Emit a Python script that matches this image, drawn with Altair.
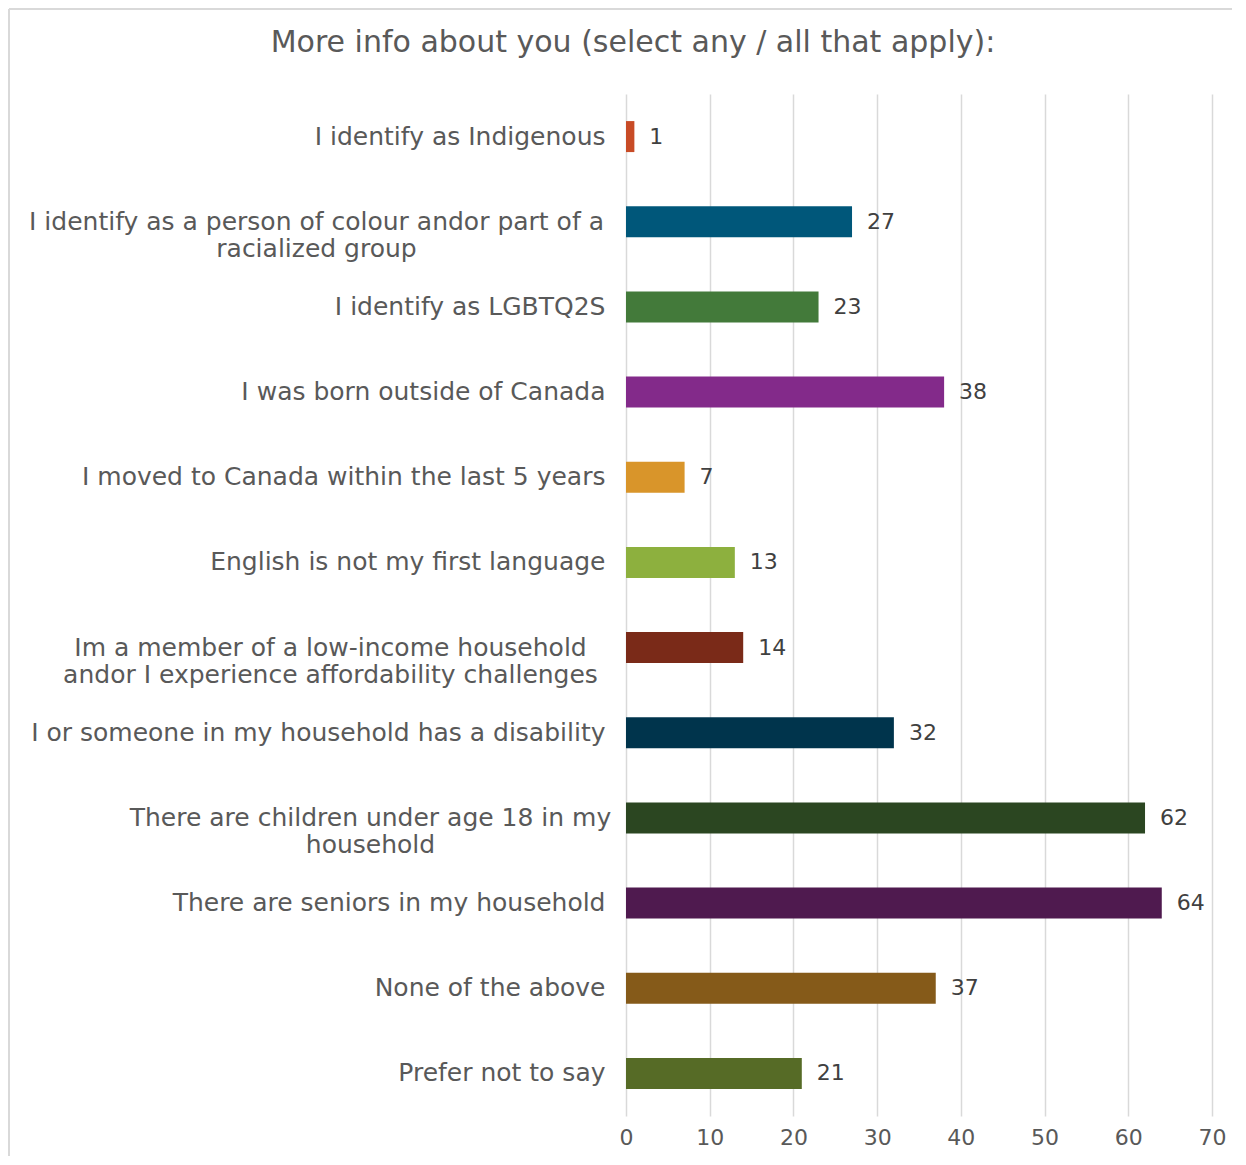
import altair as alt
import pandas as pd

categories = [
    "I identify as Indigenous",
    "I identify as a person of colour andor part of a|racialized group",
    "I identify as LGBTQ2S",
    "I was born outside of Canada",
    "I moved to Canada within the last 5 years",
    "English is not my first language",
    "Im a member of a low-income household|andor I experience affordability challenges",
    "I or someone in my household has a disability",
    "There are children under age 18 in my|household",
    "There are seniors in my household",
    "None of the above",
    "Prefer not to say",
]
values = [1, 27, 23, 38, 7, 13, 14, 32, 62, 64, 37, 21]
colors = ["#C84B26", "#00577A", "#437A3A", "#832A8A", "#D9952A", "#8DB03E",
          "#7A2A18", "#00344C", "#2B4621", "#4F1A4F", "#855A19", "#566B26"]
x_ticks = [0, 10, 20, 30, 40, 50, 60, 70]
title_text = "More info about you (select any / all that apply):"

df = pd.DataFrame({"cat": categories, "val": values})

FONT = "DejaVu Sans"
GRAY = "#595959"

multi_pad = {
    categories[1]: 310,
    categories[6]: 296,
    categories[8]: 256,
}
multi_test = " || ".join(f"datum.value === '{c}'" for c in multi_pad)

y_axis = alt.Axis(
    title=None,
    labelExpr="split(datum.label, '|')",
    labelFont=FONT,
    labelFontSize=25,
    labelColor=GRAY,
    labelLineHeight=27,
    labelLimit=700,
    ticks=False,
    domain=False,
    grid=False,
    labelAlign={"condition": {"test": multi_test, "value": "center"}, "value": "right"},
    labelPadding={
        "condition": [
            {"test": f"datum.value === '{c}'", "value": p} for c, p in multi_pad.items()
        ],
        "value": 21,
    },
)

base = alt.Chart(df)

bars = base.mark_bar(size=31).encode(
    y=alt.Y("cat:N", sort=categories, axis=y_axis,
            scale=alt.Scale(paddingInner=0.0, paddingOuter=0.0)),
    x=alt.X("val:Q", scale=alt.Scale(domain=[0, 70], nice=False),
            axis=alt.Axis(title=None, values=x_ticks, labelFont=FONT, labelFontSize=22,
                          labelColor=GRAY, ticks=False, domain=False, grid=True,
                          gridColor="#D9D9D9", gridWidth=1.5, labelPadding=11,
                          labelFlush=False)),
    color=alt.Color("cat:N", scale=alt.Scale(domain=categories, range=colors), legend=None),
)

labels = base.mark_text(align="left", baseline="middle", dx=15, font=FONT,
                        fontSize=22, color="#404040").encode(
    y=alt.Y("cat:N", sort=categories),
    x="val:Q",
    text="val:Q",
)

frame_data = alt.Data(values=[{"k": 1}])
left_border = alt.Chart(frame_data).mark_rule(color="#D9D9D9", strokeWidth=2).encode(
    x=alt.value(-617), y=alt.value(-85), y2=alt.value(1150)
)
top_border = alt.Chart(frame_data).mark_rule(color="#D9D9D9", strokeWidth=2).encode(
    x=alt.value(-617), x2=alt.value(700), y=alt.value(-85)
)

chart = alt.layer(left_border, top_border, bars, labels).properties(
    width=586,
    height=1022,
    padding={"left": 618, "top": 86, "right": 20, "bottom": 40},
    autosize=alt.AutoSizeParams(type="none"),
    title=alt.TitleParams(title_text, font=FONT, fontSize=30, fontWeight="normal",
                          color=GRAY, anchor="middle", frame="group", dx=-286, offset=-50),
).configure_view(stroke=None).configure_axis(labelFont=FONT)

chart.save("out.html", embed_options={"renderer": "svg", "actions": False})
